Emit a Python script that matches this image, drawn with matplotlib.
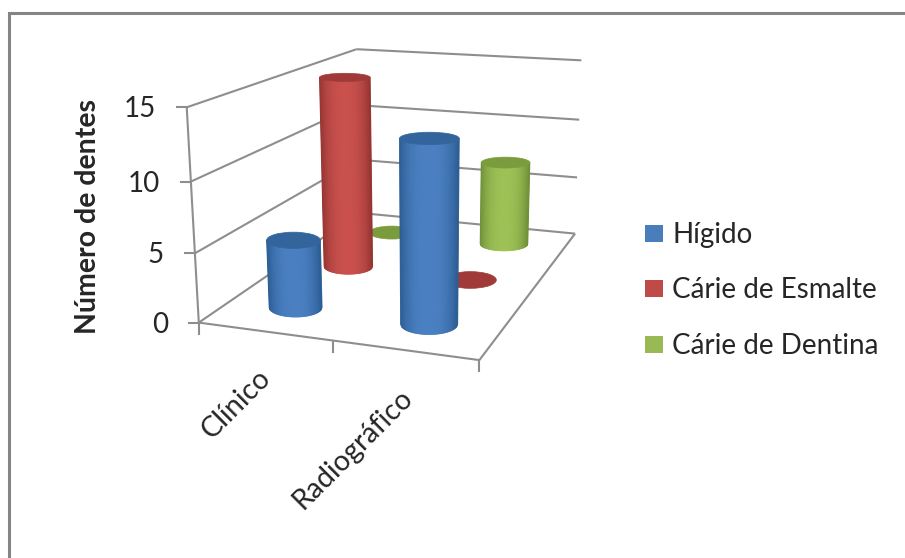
import numpy as np
import matplotlib
matplotlib.use("Agg")
import matplotlib.pyplot as plt
from matplotlib.collections import PolyCollection
from matplotlib.colors import to_rgb
from matplotlib.patches import Ellipse, Rectangle

categories = ["Clínico", "Radiográfico"]
series_names = ["Hígido", "Cárie de Esmalte", "Cárie de Dentina"]
higido = [5, 13]
esmalte = [15, 0]
dentina = [0, 7]
y_ticks = [0, 5, 10, 15]

side_colors = ["#4a80c2", "#c9504d", "#9dc155"]
edge_colors = ["#2b5c92", "#943532", "#6f8f38"]
top_colors = ["#33659c", "#a03a38", "#7b9c3c"]
legend_colors = ["#4a7ebb", "#be4b48", "#98b954"]

GRID = "#8e8e8e"
TEXT = "#262626"

plt.rcParams["font.family"] = ["Lato", "DejaVu Sans"]

W, H = 905, 558
fig = plt.figure(figsize=(W / 100, H / 100), dpi=100)
ax = fig.add_axes([0, 0, 1, 1])
ax.set_xlim(0, W)
ax.set_ylim(H, 0)
ax.axis("off")

# box corners on screen, (category axis 0-1, depth 0-1, value) -> pixel
corners = [
    ((0, 0, 0), (197, 322)), ((1, 0, 0), (480, 360)),
    ((1, 1, 0), (574, 234)), ((0, 1, 0), (361, 213)),
    ((0, 0, 15), (188, 108)), ((0, 1, 15), (355, 49)),
    ((1, 1, 15), (582, 60)),
]
rows = []
for (a, b, c), (u, v) in corners:
    rows.append([a, b, c, 1, 0, 0, 0, 0, -u * a, -u * b, -u * c, -u])
    rows.append([0, 0, 0, 0, a, b, c, 1, -v * a, -v * b, -v * c, -v])
P = np.linalg.svd(np.array(rows, dtype=float))[2][-1].reshape(3, 4)


def project(a, b, c):
    pts = P @ np.array([a, b, c, 1.0])
    return pts[:2] / pts[2]


def line3d(start, end, lw=1.5):
    x0, y0 = project(*start)
    x1, y1 = project(*end)
    ax.plot([x0, x1], [y0, y1], color=GRID, lw=lw, solid_capstyle="butt", zorder=1)


# outer frame, only top and left show
ax.plot([9, 9, W], [H, 12.5, 12.5], color="#858585", lw=2.2, zorder=1,
        solid_joinstyle="miter")

# walls, floor edges and ticks
for t in y_ticks:
    line3d((0, 0, t), (0, 1, t))
    line3d((0, 1, t), (1, 1, t))
    x, y = project(0, 0, t)
    ax.plot([x - 10, x], [y, y], color=GRID, lw=1.5, zorder=1)
    ax.text(x - 31, y + 2, str(t), ha="right", va="center", fontsize=20, color=TEXT)
line3d((0, 0, 0), (0, 0, 15))
line3d((0, 0, 0), (1, 0, 0))
line3d((1, 0, 0), (1, 1, 0))
for a in np.linspace(0, 1, len(categories) + 1):
    x, y = project(a, 0, 0)
    ax.plot([x, x], [y, y + 11], color=GRID, lw=1.5, zorder=1)

# cylinder footprint in box units
RX = 0.103
RY = 0.07


def disc(a, b, value):
    # upright ellipse: centre, half width and half height at this height
    cx, cy = project(a, b, value)
    hw = 0.5 * (project(a + RX, b, value)[0] - project(a - RX, b, value)[0])
    hh = 0.5 * (project(a, b - RY, value)[1] - project(a, b + RY, value)[1])
    return cx, cy, hw, hh


def cylinder(a, b, value, side, edge, top, order):
    bx, by, bw, bh = disc(a, b, 0)
    if value > 0:
        tx, ty, tw, th = disc(a, b, value)
        c0, c1 = np.array(to_rgb(edge)), np.array(to_rgb(side))
        u = np.linspace(-1, 1, 61)
        arc = np.sqrt(1 - u ** 2)
        quads, colors = [], []
        for i in range(60):
            quads.append([
                (bx + bw * u[i], by + bh * arc[i]),
                (bx + bw * u[i + 1], by + bh * arc[i + 1]),
                (tx + tw * u[i + 1], ty + th * arc[i + 1]),
                (tx + tw * u[i], ty + th * arc[i]),
            ])
            k = 1 - abs(0.5 * (u[i] + u[i + 1])) ** 2.6
            colors.append(c0 + (c1 - c0) * k)
        ax.add_collection(PolyCollection(quads, facecolors=colors, edgecolors=colors,
                                         linewidths=0.6, zorder=order))
        ax.add_patch(Ellipse((tx, ty), 2 * tw, 2 * th, fc=top, ec=top, lw=0.5,
                             zorder=order + 0.1))
    else:
        ax.add_patch(Ellipse((bx, by), 2 * bw, 2 * bh, fc=top, ec=top, lw=0.5,
                             zorder=order))


values = [higido, esmalte, dentina]
order = 2
for s in range(len(values) - 1, -1, -1):
    for c in range(len(categories)):
        cylinder((c + 0.5) / len(categories), (s + 0.5) / len(values), values[s][c],
                 side_colors[s], edge_colors[s], top_colors[s], order)
        order += 1

# labels
ax.text(88, 216, "Número de dentes", rotation=90, ha="center", va="center",
        fontsize=20.5, fontweight="bold", color=TEXT)
ends = [(257, 365), (399, 384)]
for name, (x, y) in zip(categories, ends):
    ax.text(x, y, name, rotation=45, rotation_mode="anchor", ha="right", va="top",
            fontsize=20.5, color=TEXT)

# legend
for name, color, y in zip(series_names, legend_colors, [233, 288, 344]):
    ax.add_patch(Rectangle((645, y - 8), 18, 17, fc=color, ec="none", zorder=3))
    ax.text(672, y + 1.5, name, ha="left", va="center", fontsize=20, color=TEXT)

fig.savefig("out.png", dpi=100)
